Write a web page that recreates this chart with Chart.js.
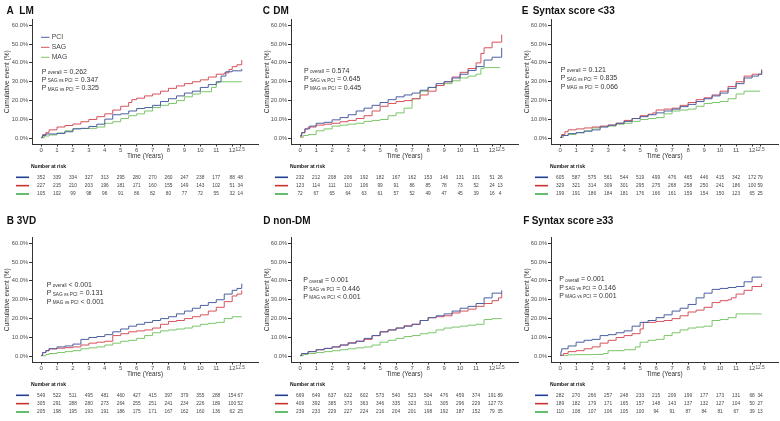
<!DOCTYPE html>
<html>
<head>
<meta charset="utf-8">
<script src="https://cdn.jsdelivr.net/npm/chart.js@4.4.1/dist/chart.umd.min.js"></script>
<style>
body { margin: 0; background: #fff; }
#wrap { position: relative; width: 780px; height: 421px; overflow: hidden; }
canvas { position: absolute; }
</style>
</head>
<body>
<div id="wrap">
  <canvas id="pA" width="260" height="211" style="left:0px;top:0px"></canvas>
  <canvas id="pC" width="260" height="211" style="left:260px;top:0px"></canvas>
  <canvas id="pE" width="260" height="211" style="left:520px;top:0px"></canvas>
  <canvas id="pB" width="260" height="211" style="left:0px;top:210px"></canvas>
  <canvas id="pD" width="260" height="211" style="left:260px;top:210px"></canvas>
  <canvas id="pF" width="260" height="211" style="left:520px;top:210px"></canvas>
</div>
<script>
// groups and axis labels
var groups = ["PCI", "SAG", "MAG"];
var xTicks = [0, 1, 2, 3, 4, 5, 6, 7, 8, 9, 10, 11, 12, 12.5];
var yTicks = [0, 10, 20, 30, 40, 50, 60];
var riskTimes = [0, 1, 2, 3, 4, 5, 6, 7, 8, 9, 10, 11, 12, 12.5];

// cumulative event (%), [years, percent]
var lmPCI = [[0,0.5],[0.1,1.5],[0.3,2.3],[1,2.6],[1.5,3.5],[2,5],[2.5,5.3],[3,6.3],[3.5,7.5],[4,10.2],[4.5,12.5],[5,13],[5.5,14.5],[6,15.8],[6.5,16.3],[7,17.5],[7.5,19.5],[8,21],[8.5,22.5],[9,24],[9.5,25],[10,27],[10.5,28.5],[11,30],[11.3,33],[11.6,35.3],[12,35.8],[12.6,36.8]];
var lmSAG = [[0,0.5],[0.1,2],[0.3,3],[0.5,4.5],[1,6],[1.5,6.8],[2,7.6],[2.5,8.8],[3,10],[3.5,11.5],[4,13],[4.5,15],[5,17],[5.5,19],[5.7,20.5],[6,21.3],[6.5,22.5],[7,23.5],[7.5,25],[8,26.5],[8.5,27.8],[9,29],[9.5,30],[10,31],[10.5,32.5],[11,34],[11.5,34.7],[11.8,36.5],[12,38],[12.3,39],[12.6,41.5]];
var lmMAG = [[0,0.3],[0.2,1.2],[0.5,1.8],[1,2.8],[1.5,4],[2,5.2],[3,5.3],[3.5,6],[4,8],[4.5,8.8],[5,10.5],[5.5,12],[6,13],[6.5,14.5],[7,16.3],[7.5,17.5],[8,18.5],[8.5,20],[9,22],[9.5,23.5],[10,24.7],[10.7,27],[11,29.5],[11.2,30],[12.6,30]];

var dmPCI = [[0,1.5],[0.1,3],[0.3,5],[0.6,6.5],[1,8],[1.5,8.5],[2,9.8],[2.5,11],[3,12.5],[3.5,14.5],[4,16],[4.5,17.5],[5,19],[5.5,20.5],[6,22],[6.5,23],[7,24],[7.5,25.5],[8,27],[8.5,29],[9,30],[9.5,32],[10,34],[10.5,36],[11,38],[11.5,41.5],[12,43],[12.5,43],[12.6,48]];
var dmSAG = [[0,1],[0.1,3],[0.3,5],[0.5,6],[1,7],[1.5,7.5],[2,8],[2.5,8.8],[3,9.5],[3.5,10.5],[4,12],[4.5,14.5],[5,17],[5.5,18.5],[6,19.5],[6.5,20],[7,21],[7.5,23],[8,25],[8.5,28],[9,30],[9.5,32.5],[10,35],[10.5,37],[11,40],[11.3,45],[11.5,48],[12,51],[12.5,51],[12.6,55]];
var dmMAG = [[0,0.5],[0.2,1.5],[0.5,2],[1,4],[1.5,5],[2,6.5],[2.5,7],[3,7.5],[3.5,8],[4,9],[4.5,9.5],[5,10],[5.5,12],[6,13.5],[6.5,16],[7,21],[7.5,25],[8,27],[8.5,28],[9,29],[9.5,30.5],[10,32],[10.5,33],[11,34],[11.3,37],[11.5,37.5],[12.5,37.5]];

var lowPCI = [[0,0.5],[0.1,1.5],[0.5,2.5],[1,3],[1.5,3.8],[2,4.5],[2.5,6],[3,7],[3.5,8],[4,9],[4.5,10.5],[5,11.5],[5.5,12.5],[6,13.5],[6.5,14.5],[7,15.5],[7.5,16.8],[8,18],[8.5,19.5],[9,21],[9.5,22.5],[10,24],[10.5,26.5],[11,29],[11.5,32],[12,33],[12.4,34],[12.6,36]];
var lowSAG = [[0,0.5],[0.1,2],[0.3,3.5],[0.5,4.5],[1,5],[1.5,5.5],[2,6],[2.5,6.5],[3,7],[3.5,8],[4,9.5],[4.5,10.5],[5,12],[5.5,12.8],[5.8,13.5],[6,15],[6.5,15.5],[7,16],[7.5,17.5],[8,19],[8.5,20.5],[9,21.5],[9.5,23],[10,25],[10.5,27.5],[11,30],[11.5,33],[12,34],[12.6,36.5]];
var lowMAG = [[0,0.5],[0.2,1.5],[0.5,2],[1,3],[1.5,4],[2,5.5],[2.5,6.2],[3,6.5],[3.5,7.5],[4,8],[4.5,9],[5,10],[5.5,10.5],[6,11],[6.5,13],[7,14.5],[7.5,15],[8,15.5],[8.5,17],[9,18.5],[9.5,19],[10,19.5],[10.5,21],[11,23.5],[11.5,25],[12.5,25]];

var vdPCI = [[0,0.5],[0.1,2],[0.3,3],[0.5,4],[1,5],[1.5,5.5],[2,6.5],[2.5,9],[3,10],[3.5,10.5],[4,11.5],[4.5,13],[5,14.5],[5.5,16],[6,17],[6.5,18],[7,19],[7.5,20],[8,21],[8.5,22.5],[9,24],[9.5,25.5],[10,27],[10.5,28.5],[11,30],[11.5,33],[12,35],[12.3,36],[12.6,38.5]];
var vdSAG = [[0,0.5],[0.1,2],[0.3,3],[0.5,4],[1,4.3],[1.5,4.6],[2,5],[2.5,6],[3,7],[3.5,7.5],[4,8],[4.5,11],[5,12],[5.5,13],[6,13.5],[6.5,14],[7,15],[7.5,17],[8,18.5],[8.5,19],[9,20],[9.5,21],[10,22],[10.5,24],[11,26],[11.5,29],[12,32],[12.3,33],[12.6,35]];
var vdMAG = [[0,0.3],[0.3,1],[0.5,1.5],[1,2],[1.5,2.5],[2,3],[2.5,4],[3,4.5],[3.5,5],[4,6],[4.5,7],[5,8],[5.5,8.5],[6,9.5],[6.5,11],[7,12.5],[7.5,13.5],[8,14],[8.5,14.5],[9,15],[9.5,16],[10,17],[10.5,17.5],[11,18],[11.5,20],[12,21],[12.6,21]];

var ndmPCI = [[0,0.5],[0.1,1.5],[0.5,2.5],[1,3.5],[1.5,4.2],[2,5],[2.5,6],[3,7],[3.5,8],[4,9.5],[4.5,11],[5,13],[5.5,14],[6,15],[6.5,16],[7,17],[7.5,19],[8,20.5],[8.5,21.5],[9,22.5],[9.5,24],[10,25.5],[10.5,26.5],[11,28],[11.5,31],[12,33.5],[12.6,35]];
var ndmSAG = [[0,0.5],[0.1,1.5],[0.5,2.5],[1,3.5],[1.5,4.2],[2,5],[2.5,6],[3,7.2],[3.5,8],[4,9],[4.5,11],[5,13],[5.5,14],[6,15],[6.5,16.2],[7,17],[7.5,19],[8,20.5],[8.5,21],[9,21.5],[9.5,23],[10,24],[10.5,25],[11,26.5],[11.5,28],[12,29.5],[12.4,31],[12.6,33.5]];
var ndmMAG = [[0,0.3],[0.2,1],[0.5,1.5],[1,2],[1.5,2.5],[2,3],[2.5,3.5],[3,4],[3.5,4.5],[4,5],[4.5,6],[5,7.5],[5.5,8.5],[6,9.5],[6.5,10.5],[7,11],[7.5,12],[8,12.5],[8.5,14],[9,15],[9.5,15.5],[10,16],[10.5,16.5],[11,17],[11.5,19.5],[12,20],[12.6,20]];

var highPCI = [[0,0.5],[0.05,2.5],[0.1,4],[0.5,5.5],[1,7.5],[1.5,8.5],[2,9],[2.5,11],[3,11.5],[3.5,12.5],[4,13.5],[4.5,16],[5,18],[5.5,19],[6,20.5],[6.5,22],[7,24],[7.5,25.5],[8,27.5],[8.5,31],[9,33.5],[9.5,35.5],[10,36],[10.5,36.5],[11,37],[11.5,39.5],[12,42],[12.6,42]];
var highSAG = [[0,0.5],[0.2,1.5],[0.5,2.5],[1,3],[1.5,4],[2,5],[2.5,7],[3,8.5],[3.5,10],[4,11],[4.5,12],[5,14.5],[5.2,18],[6,18.5],[6.5,19],[7,20],[7.5,21.5],[8,23.5],[8.5,24.5],[9,26],[9.5,28.5],[10,29.5],[10.5,30],[10.7,31],[11,33],[11.5,35],[12,37],[12.6,38.5]];
var highMAG = [[0,0.5],[0.5,0.8],[1,0.9],[2,1],[2.7,1.5],[3,3],[4,3.5],[4.7,5],[5,7.5],[5.5,8.5],[6,9],[6.5,11],[7,12.5],[7.5,14],[8,15],[8.5,15.5],[9,16],[9.5,19],[10,19.5],[10.5,20.5],[11,22.5],[12.6,22.5]];

// number at risk (PCI, SAG, MAG)
var lmRisk = [[352,339,334,327,313,295,280,270,260,247,238,177,88,48],[227,215,210,203,196,181,171,160,155,149,143,102,51,34],[105,102,99,98,96,91,86,82,80,77,72,55,32,14]];
var dmRisk = [[232,212,208,206,192,182,167,162,153,146,131,101,51,26],[123,114,111,110,106,99,91,86,85,78,73,52,24,13],[72,67,65,64,63,61,57,52,49,47,45,39,16,4]];
var lowRisk = [[605,587,575,561,544,519,499,476,465,446,415,342,172,79],[329,321,314,309,301,295,275,268,258,250,241,186,100,59],[199,191,186,184,181,176,166,161,159,154,150,123,65,25]];
var vdRisk = [[549,522,511,495,481,460,427,415,397,379,355,288,154,67],[305,291,288,280,273,264,255,251,241,234,226,189,100,52],[205,198,195,193,191,186,175,171,167,162,160,136,62,25]];
var ndmRisk = [[669,649,637,622,602,573,540,523,504,476,459,374,191,89],[409,392,385,373,363,346,335,323,311,305,296,229,127,73],[239,233,229,227,224,216,204,201,198,192,187,152,79,35]];
var highRisk = [[282,270,266,257,248,233,215,209,199,177,173,131,68,34],[189,182,179,171,165,157,148,143,137,132,127,104,50,27],[110,108,107,106,105,100,94,91,87,84,81,67,39,13]];

// p values
var lmP = [["overall","= 0.262"],["SAG vs PCI","= 0.347"],["MAG vs PCI","= 0.325"]];
var vdP = [["overall","< 0.001"],["SAG vs PCI","= 0.131"],["MAG vs PCI","< 0.001"]];
var dmP = [["overall","= 0.574"],["SAG vs PCI","= 0.645"],["MAG vs PCI","= 0.445"]];
var ndmP = [["overall","= 0.001"],["SAG vs PCI","= 0.446"],["MAG vs PCI","< 0.001"]];
var lowP = [["overall","= 0.121"],["SAG vs PCI","= 0.835"],["MAG vs PCI","= 0.066"]];
var highP = [["overall","= 0.001"],["SAG vs PCI","= 0.146"],["MAG vs PCI","= 0.001"]];

var lineColors = ["#4c5f9f", "#d6525c", "#7cc66b"];
var riskColors = ["#233f92", "#c9322f", "#3dad48"];
var FONT = '"Liberation Sans", Arial, sans-serif';
Chart.defaults.font.family = FONT;

function toXY(arr) {
  return arr.map(function (p) { return { x: p[0], y: p[1] }; });
}

var extras = {
  id: 'extras',
  afterDraw: function (chart, args, o) {
    var ctx = chart.ctx, xs = chart.scales.x, area = chart.chartArea;
    ctx.save();
    ctx.textBaseline = 'middle';

    // panel title
    ctx.fillStyle = '#111';
    ctx.font = 'bold 10px ' + FONT;
    ctx.textAlign = 'left';
    ctx.fillText(o.letter, o.letterX, 11);
    ctx.fillText(o.title, o.titleX, 11);

    // x axis title
    ctx.fillStyle = '#333';
    ctx.font = '6.4px ' + FONT;
    ctx.textAlign = 'center';
    ctx.fillText('Time (Years)', (area.left + area.right) / 2, area.bottom + 12);

    // legend (panel A only)
    if (o.legend) {
      groups.forEach(function (g, i) {
        var ly = 37.3 + i * 10;
        ctx.strokeStyle = lineColors[i];
        ctx.lineWidth = 1;
        ctx.beginPath(); ctx.moveTo(41, ly); ctx.lineTo(49.5, ly); ctx.stroke();
        ctx.fillStyle = '#444';
        ctx.font = '6.8px ' + FONT;
        ctx.textAlign = 'left';
        ctx.fillText(g, 51.7, ly);
      });
    }

    // p values
    o.p.forEach(function (ln, i) {
      var px = o.pX, py = o.pY + i * 8.3;
      ctx.fillStyle = '#333';
      ctx.textAlign = 'left';
      ctx.font = '7px ' + FONT;
      ctx.fillText('P', px, py);
      px += ctx.measureText('P').width + 1.3;
      ctx.font = '4.7px ' + FONT;
      ctx.fillText(ln[0], px, py + 1);
      px += ctx.measureText(ln[0]).width;
      ctx.font = '7px ' + FONT;
      ctx.fillText(' ' + ln[1], px, py);
    });

    // number at risk table
    ctx.fillStyle = '#111';
    ctx.font = 'bold 5px ' + FONT;
    ctx.textAlign = 'left';
    ctx.fillText('Number at risk', area.left - 1, area.bottom + 22.7);
    o.risk.forEach(function (row, r) {
      var ry = area.bottom + 33.3 + r * 8.35;
      ctx.strokeStyle = riskColors[r];
      ctx.lineWidth = 1.6;
      ctx.beginPath(); ctx.moveTo(area.left - 16, ry); ctx.lineTo(area.left - 3, ry); ctx.stroke();
      ctx.fillStyle = '#444';
      ctx.font = '4.8px ' + FONT;
      ctx.textAlign = 'center';
      row.forEach(function (n, k) {
        ctx.fillText(String(n), xs.getPixelForValue(riskTimes[k]), ry);
      });
    });
    ctx.restore();
  }
};

function drawPanel(id, cfg) {
  var bottom = 144 + cfg.dy;
  new Chart(document.getElementById(id), {
    type: 'line',
    data: {
      datasets: cfg.series.map(function (s, i) {
        return {
          label: groups[i],
          data: toXY(s),
          stepped: true,
          borderColor: lineColors[i],
          borderWidth: 1,
          pointRadius: 0,
          fill: false
        };
      })
    },
    options: {
      responsive: false,
      devicePixelRatio: 1,
      animation: false,
      layout: { padding: { top: 19.5 + cfg.dy, right: 2, left: 0, bottom: 0 } },
      plugins: {
        legend: { display: false },
        tooltip: { enabled: false },
        extras: cfg
      },
      scales: {
        x: {
          type: 'linear',
          min: -0.57,
          max: 13.62,
          afterBuildTicks: function (s) { s.ticks = xTicks.map(function (v) { return { value: v }; }); },
          afterFit: function (s) { s.height = 211 - bottom; },
          grid: { drawOnChartArea: false, drawTicks: true, tickLength: 2.5, color: '#333' },
          border: { display: true, color: '#333', width: 1 },
          ticks: {
            color: '#4d4d4d',
            padding: 0.5,
            maxRotation: 0,
            autoSkip: false,
            font: function (c) { return { size: (c.tick && c.tick.value === 12.5) ? 4.8 : 6, family: FONT }; },
            callback: function (v) { return String(v); }
          }
        },
        y: {
          min: -3,
          max: 63,
          afterBuildTicks: function (s) { s.ticks = yTicks.map(function (v) { return { value: v }; }); },
          afterFit: function (s) { s.width = cfg.left; },
          grid: { drawOnChartArea: false, drawTicks: true, tickLength: 3, color: '#333' },
          border: { display: true, color: '#333', width: 1 },
          ticks: {
            color: '#4d4d4d',
            padding: 1,
            font: { size: 5.7 },
            callback: function (v) { return v.toFixed(1) + '%'; }
          },
          title: {
            display: true,
            text: 'Cumulative event (%)',
            color: '#333',
            font: { size: 6.6 },
            padding: { top: 3, bottom: 0 }
          }
        }
      }
    },
    plugins: [extras]
  });
}

drawPanel('pA', { letter: 'A', letterX: 6.5, title: 'LM', titleX: 19.3, dy: 0, left: 32, legend: true,
  series: [lmPCI, lmSAG, lmMAG], risk: lmRisk, p: lmP, pX: 41.7, pY: 71.7 });
drawPanel('pC', { letter: 'C', letterX: 2.7, title: 'DM', titleX: 13.3, dy: 0, left: 31,
  series: [dmPCI, dmSAG, dmMAG], risk: dmRisk, p: dmP, pX: 44, pY: 71 });
drawPanel('pE', { letter: 'E', letterX: 1.7, title: 'Syntax score <33', titleX: 12.7, dy: 0, left: 31,
  series: [lowPCI, lowSAG, lowMAG], risk: lowRisk, p: lowP, pX: 40.7, pY: 70 });
drawPanel('pB', { letter: 'B', letterX: 6.7, title: '3VD', titleX: 16.7, dy: 8, left: 32,
  series: [vdPCI, vdSAG, vdMAG], risk: vdRisk, p: vdP, pX: 46.7, pY: 75 });
drawPanel('pD', { letter: 'D', letterX: 3.3, title: 'non-DM', titleX: 13.3, dy: 8, left: 31,
  series: [ndmPCI, ndmSAG, ndmMAG], risk: ndmRisk, p: ndmP, pX: 43.3, pY: 70.3 });
drawPanel('pF', { letter: 'F', letterX: 3.3, title: 'Syntax score \u226533', titleX: 11.7, dy: 8, left: 31,
  series: [highPCI, highSAG, highMAG], risk: highRisk, p: highP, pX: 39.3, pY: 69.3 });
</script>
</body>
</html>
